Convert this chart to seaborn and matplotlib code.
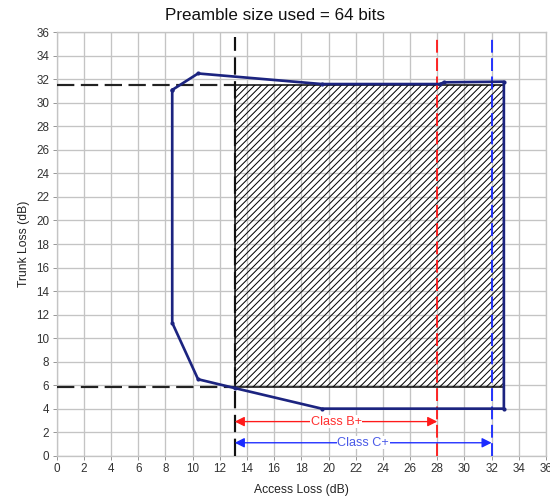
import matplotlib
matplotlib.use("Agg")
import matplotlib.pyplot as plt
import matplotlib.patches as mpatches
import seaborn as sns
import pandas as pd

# operating region outline (access loss vs trunk loss)
curve_x = [8.5, 10.4, 19.5, 28.2, 28.5, 32.9, 32.9, 19.5, 13.1, 10.4, 8.5, 8.5]
curve_y = [31.1, 32.5, 31.6, 31.6, 31.75, 31.8, 4.0, 4.0, 5.75, 6.5, 11.3, 31.1]

# hatched usable area
box_x = [13.1, 32.9]
box_y = [5.8, 31.5]

# class limits
class_names = ["Class B+", "Class C+"]
class_limits = [28.0, 32.0]
class_colors = ["#ff1a1a", "#1a2aff"]
class_text_colors = ["#ff3030", "#4a5ae8"]
arrow_levels = [2.9, 1.1]

x_ticks = list(range(0, 37, 2))
y_ticks = list(range(0, 37, 2))

sns.set_theme(style="whitegrid")
plt.rcParams["font.family"] = ["Liberation Sans", "DejaVu Sans"]
plt.rcParams["hatch.linewidth"] = 0.6

DPI = 120
fig = plt.figure(figsize=(550 / DPI, 499 / DPI), dpi=DPI)
ax = fig.add_axes([56.7 / 550, 43.3 / 499, 489.3 / 550, 423.4 / 499])

# hatched rectangle
rect = mpatches.Rectangle((box_x[0], box_y[0]), box_x[1] - box_x[0], box_y[1] - box_y[0],
                          facecolor="none", edgecolor="black", hatch="//////", lw=0.9, zorder=2)
ax.add_patch(rect)

# black dashed guide lines
ax.plot([0, box_x[0]], [box_y[1], box_y[1]], color="#222222", lw=1.3, dashes=(8, 3), zorder=3)
ax.plot([0, box_x[0]], [box_y[0], box_y[0]], color="#222222", lw=1.3, dashes=(8, 3), zorder=3)
ax.plot([box_x[0], box_x[0]], [0, 35.6], color="#111111", lw=1.3, dashes=(8, 3), zorder=3)

# class limit lines
for lim, col in zip(class_limits, class_colors):
    ax.plot([lim, lim], [0, 35.6], color=col, lw=1.1, dashes=(7, 3), zorder=3)

# outline curve
df = pd.DataFrame({"access": curve_x, "trunk": curve_y})
sns.lineplot(data=df, x="access", y="trunk", sort=False, estimator=None, ax=ax,
             color="#1c2480", lw=1.6, marker="o", markersize=2.5, markeredgewidth=0, zorder=4)

# class arrows
for name, lim, col, tcol, lvl in zip(class_names, class_limits, class_colors,
                                     class_text_colors, arrow_levels):
    ax.annotate("", xy=(box_x[0], lvl), xytext=(lim, lvl),
                arrowprops=dict(arrowstyle="<|-|>", color=col, lw=0.8,
                                mutation_scale=12, shrinkA=0, shrinkB=0), zorder=5)
    ax.text((box_x[0] + lim) / 2, lvl, name, color=tcol, fontsize=7.6,
            ha="center", va="center", zorder=6,
            bbox=dict(facecolor="white", edgecolor="none", pad=0.3))

ax.set_xlim(0, 36)
ax.set_ylim(0, 36)
ax.set_xticks(x_ticks)
ax.set_yticks(y_ticks)
ax.grid(True, color="#c4c4c4", lw=0.8)
for s in ax.spines.values():
    s.set_color("#c4c4c4")
    s.set_linewidth(0.8)
ax.tick_params(axis="both", labelsize=7, colors="#333333", length=2.5, width=0.6,
               pad=2, bottom=True, left=True)
ax.tick_params(axis="both", color="#999999")

ax.set_xlabel("Access Loss (dB)", fontsize=7.3, color="#222222", labelpad=5)
ax.set_ylabel("Trunk Loss (dB)", fontsize=7.3, color="#222222", labelpad=4)
fig.text(275 / 550, 1 - 15 / 499, "Preamble size used = 64 bits", fontsize=10.2,
         color="#111111", ha="center", va="center")

fig.savefig("out.png", dpi=DPI, facecolor="white")
